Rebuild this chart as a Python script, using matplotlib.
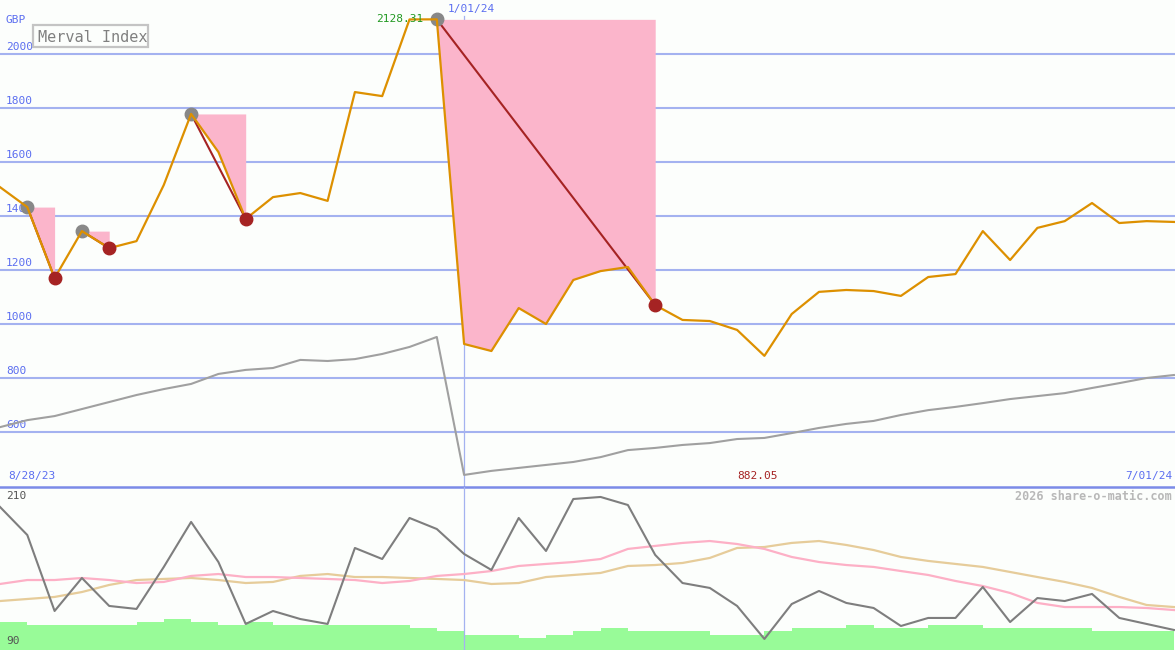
import numpy as np
import matplotlib.pyplot as plt
from matplotlib.patches import Rectangle

# weekly closes, 4 Sep 2023 .. 1 Jul 2024 (GBP)
price = [1507, 1433, 1170, 1344, 1281, 1307, 1515, 1778, 1637, 1389,
         1470, 1485, 1456, 1859, 1844, 2128, 2128.31, 926, 900, 1059,
         1000, 1163, 1196, 1211, 1070, 1015, 1011, 978, 882.05, 1037,
         1119, 1126, 1122, 1104, 1174, 1185, 1344, 1237, 1356, 1381,
         1448, 1374, 1381, 1378]
# relative line (grey, top panel)
rel = [618, 644, 659, 685, 711, 737, 759, 778, 815, 830,
       837, 867, 863, 870, 889, 915, 952, 441, 456, 467,
       478, 489, 507, 533, 541, 552, 559, 574, 578, 596,
       615, 630, 641, 663, 681, 693, 707, 722, 733, 744,
       763, 781, 800, 811]
# oscillator and its two averages (lower panel)
osc = [199.2, 175.8, 112.5, 140.0, 116.7, 114.2, 149.2, 186.7, 153.3, 101.7,
       112.5, 105.8, 101.7, 165.0, 155.8, 190.0, 180.8, 160.0, 146.7, 190.0,
       162.5, 205.8, 207.5, 200.8, 159.2, 135.8, 131.7, 116.7, 89.2, 118.3,
       129.2, 119.2, 115.0, 100.0, 106.7, 106.7, 132.5, 103.3, 123.3, 120.8,
       126.7, 106.7, 101.7, 96.7]
ma_pink = [135.0, 138.3, 138.3, 140.0, 138.3, 135.8, 136.7, 141.7, 143.3, 140.8,
           140.8, 140.0, 139.2, 138.3, 135.8, 137.5, 141.7, 143.3, 145.8, 150.0,
           151.7, 153.3, 155.8, 164.2, 166.7, 169.2, 170.8, 168.3, 164.2, 157.5,
           153.3, 150.8, 149.2, 145.8, 142.5, 137.5, 133.3, 127.5, 119.2, 115.8,
           115.8, 115.8, 115.0, 113.3]
ma_tan = [120.8, 122.5, 124.2, 128.3, 134.2, 138.3, 139.2, 140.0, 138.3, 135.8,
          136.7, 141.7, 143.3, 140.8, 140.8, 140.0, 139.2, 138.3, 135.0, 135.8,
          140.8, 142.5, 144.2, 150.0, 150.8, 152.5, 156.7, 165.0, 165.8, 169.2,
          170.8, 167.5, 163.3, 157.5, 154.2, 151.7, 149.2, 145.0, 140.8, 136.7,
          131.7, 124.2, 117.5, 115.8]
volume = [28, 25, 25, 25, 25, 28, 31, 28, 25, 28, 25, 25, 25, 25, 25, 22, 19, 15,
          15, 12, 15, 19, 22, 19, 19, 19, 15, 15, 19, 22, 22, 25, 22, 22, 25, 25,
          22, 22, 22, 22, 19, 19, 19]
# (peak, trough) index pairs
drops = [(1, 2), (3, 4), (7, 9), (16, 24)]
jan_idx = 17
yticks = [600, 800, 1000, 1200, 1400, 1600, 1800, 2000]

W, H = 1175, 650
bg = '#fcfefc'
mono = 'DejaVu Sans Mono'
blue = '#5b6ef0'

x = np.arange(len(price))

fig = plt.figure(figsize=(W / 100, H / 100), dpi=100, facecolor=bg)
ax = fig.add_axes([0, 163 / H, 1, 487 / H], facecolor=bg)
ax2 = fig.add_axes([0, 0, 1, 163 / H], facecolor=bg)
for a in (ax, ax2):
    a.set_xlim(0, 43.04)
    a.axis('off')
ax.set_ylim(396.3, 2200)
ax2.set_ylim(80, 215.8)

# top panel
for v in yticks:
    ax.axhline(v, color='#a4b2f0', lw=1.5, zorder=1)
    ax.text(0.005, v + 8, str(v), transform=ax.get_yaxis_transform(),
            color=blue, fontsize=8, family=mono, va='bottom', zorder=1)
ax.axvline(jan_idx, ymax=1 - 16 / 487, color='#a4b2f0', lw=0.9, zorder=1)
ax.axhline(396.3, color='#7b8be8', lw=1.8, zorder=5, clip_on=False)

ax.plot(x, rel, color='#a0a0a0', lw=1.5, zorder=2)

for p, t in drops:
    xs = x[p:t + 1]
    ys = np.array(price[p:t + 1])
    ax.fill_between(xs, ys, price[p], color='#fbb5cb', lw=0, zorder=3)
    ax.plot([p, t], [price[p], price[t]], color='#a52323', lw=1.5, zorder=4)
    ax.plot(p, price[p], 'o', color='#888888', ms=9, zorder=4)
ax.plot(x, price, color='#dd9000', lw=1.6, zorder=5)
for p, t in drops:
    ax.plot(t, price[t], 'o', color='#a52323', ms=9, zorder=6)

i_hi = int(np.argmax(price))
i_lo = int(np.argmin(price[jan_idx:])) + jan_idx
ax.text(i_hi - 0.48, price[i_hi], f'{price[i_hi]:.2f}', color='#229922',
        fontsize=8, family=mono, ha='right', va='center', zorder=7)
fig.text(448 / W, 1 - 9 / H, '1/01/24', color=blue, fontsize=8,
         family=mono, ha='left', va='center')
ax.text(i_lo - 0.25, 420, f'{price[i_lo]:.2f}', color='#a52323', fontsize=8,
        family=mono, ha='center', va='bottom')
ax.text(0.007, 420, '8/28/23', color=blue, fontsize=8, family=mono,
        ha='left', va='bottom', transform=ax.get_yaxis_transform())
ax.text(0.998, 420, '7/01/24', color=blue, fontsize=8, family=mono,
        ha='right', va='bottom', transform=ax.get_yaxis_transform())
fig.text(6 / W, 1 - 20 / H, 'GBP', color=blue, fontsize=8, family=mono,
         va='center')
fig.text(38 / W, 1 - 37 / H, 'Merval Index', color='#808080', fontsize=11,
         family=mono, va='center')
fig.patches.append(Rectangle((33 / W, 1 - 47 / H), 115 / W, 22 / H,
                             transform=fig.transFigure, fill=False,
                             edgecolor='#c4c4c4', lw=1.6))

# lower panel
axv = ax2.twinx()
axv.set_ylim(0, 163)
axv.axis('off')
axv.bar(x[:-1], volume, width=1.0, align='edge', color='#98fb98', lw=0,
        zorder=1)
ax2.set_zorder(axv.get_zorder() + 1)
ax2.patch.set_visible(False)
ax2.axvline(jan_idx, color='#a4b2f0', lw=0.9, zorder=1)
ax2.plot(x, ma_tan, color='#e6cc9a', lw=1.6, zorder=2)
ax2.plot(x, ma_pink, color='#fdb0c6', lw=1.6, zorder=3)
ax2.plot(x, osc, color='#7e7e7e', lw=1.5, zorder=4)
fig.text(6 / W, 1 - 496 / H, '210', color='#555555', fontsize=8,
         family=mono, va='center')
fig.text(6 / W, 1 - 641 / H, '90', color='#555555', fontsize=8,
         family=mono, va='center')
fig.text(1172 / W, 1 - 496 / H, '2026 share-o-matic.com', color='#b8b8b8',
         fontsize=8.5, family=mono, weight='bold', ha='right', va='center')

fig.savefig('out.png', dpi=100, facecolor=bg)
